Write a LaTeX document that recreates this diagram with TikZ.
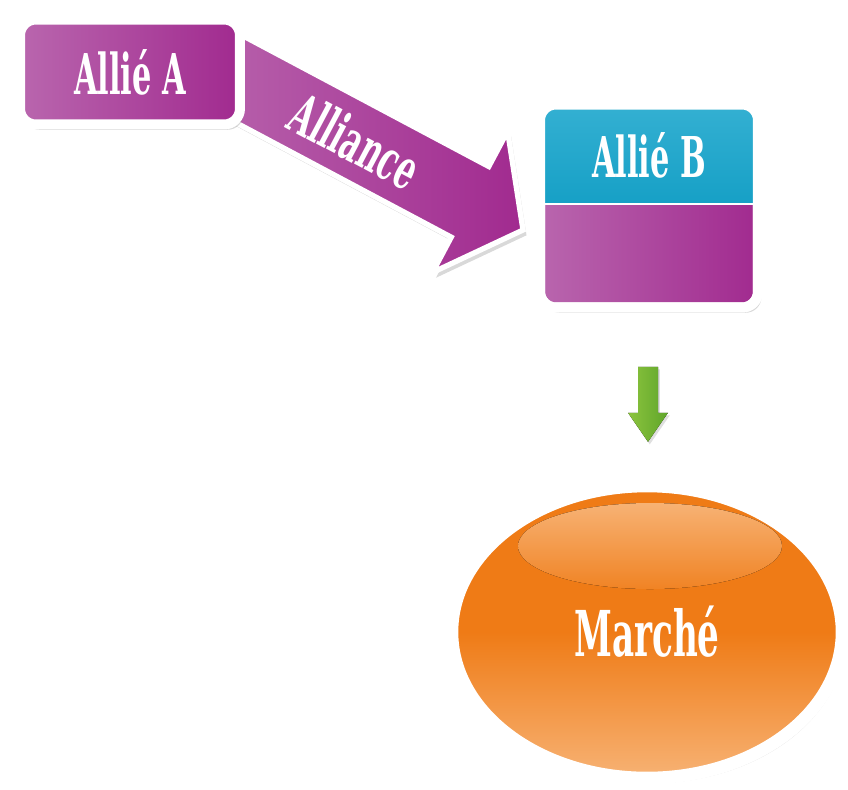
\documentclass[tikz,border=0pt]{standalone}
\usepackage{fontspec}
\usepackage{graphicx}
\usepackage{tikz}
\usetikzlibrary{shapes,positioning,calc,shadows}
\newfontfamily\slabfont{DejaVu Serif Condensed}
\newcommand\narrow[1]{\scalebox{0.6}[1]{#1}}
\definecolor{purpleL}{HTML}{B966AE}
\definecolor{purpleD}{HTML}{A12A8F}
\definecolor{cyanL}{HTML}{34B0D2}
\definecolor{cyanD}{HTML}{16A0C6}
\definecolor{orangeM}{HTML}{EF7B16}
\definecolor{orangeL}{HTML}{F7B274}
\definecolor{greenL}{HTML}{8CC43E}
\definecolor{greenD}{HTML}{5FA52A}

\begin{document}
\begin{tikzpicture}[x=0.02cm,y=-0.02cm,every node/.style={outer sep=0pt}]
\tikzstyle{lbl}=[text=white,inner sep=0pt,font=\slabfont\bfseries\fontsize{32}{32}\selectfont]
\tikzstyle{shade}=[drop shadow={opacity=0.3,shadow xshift=2pt,shadow yshift=-3pt}]
\tikzstyle{box}=[rounded corners=9pt,draw=white,line width=0.2cm,shade]
\useasboundingbox (0,0) rectangle (848,789);
%
\begin{scope}[shift={(523,230)},rotate=-28]
\draw [white,line width=3pt,left color=purpleL,right color=purpleD,shade]
(0,0) -- (-60,-80) -- (-60,-40) -- (-360,-40) -- (-360,40) -- (-60,40)
-- (-60,80) -- cycle;
\node (link) [lbl,transform shape] at (-190,0) {\narrow{Alliance}};
\end{scope}
%
\node (A) [box,minimum width=4.4cm,minimum height=2.1cm,left color=purpleL,
right color=purpleD] at (130,72) {};
\node [lbl] at (A) {\narrow{Allié A}};
%
\node (B) [box,minimum width=4.36cm,minimum height=4.06cm,left color=purpleL,
right color=purpleD] at (649,206) {};
\begin{scope}
\clip [rounded corners=9pt] (B.north west) rectangle (B.south east);
\fill [top color=cyanL,bottom color=cyanD] (B.north west) rectangle
([yshift=0.04cm]B.east);
\end{scope}
\draw [white,line width=0.2cm,rounded corners=9pt] (B.north west) rectangle
(B.south east);
\draw [white,line width=1.5pt] ([yshift=0.04cm]B.west) -- ([yshift=0.04cm]B.east);
\node [lbl] at ($(B.north)!0.5!(B.center)$) {\narrow{Allié B}};
%
\node (mkt) [ellipse,draw=white,line width=0.25cm,minimum width=7.8cm,
minimum height=5.84cm,top color=orangeM,bottom color=orangeL,middle color=orangeM,
shade] at (647,632) {};
\fill [top color=orangeL,bottom color=orangeM!85!orangeL] (650,546) ellipse
[x radius=132,y radius=43];
\node [lbl,font=\slabfont\bfseries\fontsize{36}{36}\selectfont] at (mkt) {\narrow{Marché}};
%
\coordinate (tip) at ($(B.south)!0.5!(mkt.north)+(0,45)$);
\fill [left color=greenL,right color=greenD,
drop shadow={opacity=0.25,shadow xshift=1pt,shadow yshift=-1.5pt}]
(tip) -- ++(-20,-29) -- ++(10,0) -- ++(0,-46) -- ++(20,0) -- ++(0,46)
-- ++(10,0) -- cycle;
\end{tikzpicture}
\end{document}
